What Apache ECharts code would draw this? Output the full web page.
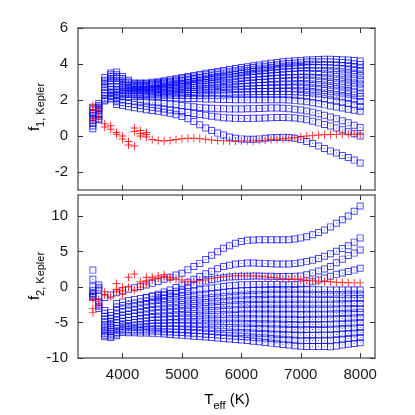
<!DOCTYPE html>
<html><head><meta charset="utf-8">
<script src="https://cdn.jsdelivr.net/npm/echarts@6/dist/echarts.min.js"></script>
<style>html,body{margin:0;padding:0;background:#fff}#c{width:415px;height:415px}</style>
</head><body><div id="c"></div>
<script>
const tEff = [3500,3600,3700,3800,3900,4000,4100,4200,4300,4400,4500,4600,4700,4800,4900,5000,5100,5200,5300,5400,5500,5600,5700,5800,5900,6000,6100,6200,6300,6400,6500,6600,6700,6800,6900,7000,7100,7200,7300,7400,7500,7600,7700,7800,7900,8000];
const xTicks = [4000,5000,6000,7000,8000];
const f1Ticks = [-2,0,2,4,6];
const f2Ticks = [-10,-5,0,5,10];

// f1 (top panel) model curves
const f1Band0 = [1.6,1.8,3.25,3.5,3.55,3.3,3.1,2.95,2.95,2.95, 2.98,3.02,3.07,3.12,3.18,3.25,3.3,3.36,3.42,3.48, 3.53,3.58,3.64,3.7,3.75,3.8,3.85,3.9,3.95,4.0, 4.04,4.08,4.12,4.15,4.18,4.2,4.22,4.24,4.25,4.26, 4.26,4.25,4.24,4.22,4.19,4.16];
const f1Band1 = [1.3,1.6,3.1,3.4,3.4,3.2,3.0,2.9,2.9,2.9, 2.93,2.97,3.01,3.06,3.12,3.18,3.23,3.28,3.34,3.4, 3.45,3.5,3.55,3.6,3.65,3.7,3.75,3.8,3.84,3.88, 3.92,3.96,4.0,4.03,4.06,4.09,4.11,4.12,4.13,4.13, 4.12,4.1,4.08,4.05,4.01,3.97];
const f1Band2 = [1.0,1.5,3.0,3.3,3.3,3.1,2.95,2.85,2.85,2.85, 2.88,2.92,2.96,3.0,3.05,3.1,3.15,3.2,3.25,3.3, 3.35,3.4,3.45,3.5,3.55,3.6,3.64,3.68,3.72,3.76, 3.8,3.84,3.87,3.9,3.93,3.95,3.97,3.98,3.98,3.97, 3.96,3.94,3.91,3.87,3.83,3.78];
const f1Band3 = [0.7,1.2,2.85,3.2,3.2,3.0,2.85,2.8,2.8,2.8, 2.83,2.86,2.9,2.95,3.0,3.05,3.09,3.13,3.17,3.21, 3.25,3.3,3.35,3.4,3.45,3.5,3.54,3.58,3.61,3.64, 3.67,3.7,3.73,3.76,3.78,3.8,3.81,3.81,3.8,3.79, 3.77,3.75,3.72,3.68,3.64,3.6];
const f1Band4 = [0.4,0.9,2.7,3.05,3.05,2.9,2.8,2.75,2.75,2.75, 2.77,2.8,2.83,2.87,2.91,2.95,2.99,3.03,3.07,3.1, 3.14,3.18,3.22,3.26,3.3,3.35,3.38,3.41,3.44,3.47, 3.5,3.53,3.55,3.57,3.59,3.6,3.6,3.6,3.59,3.57, 3.55,3.52,3.49,3.45,3.41,3.36];
const f1Band5 = [1.45,1.7,2.55,2.9,2.9,2.8,2.7,2.7,2.7,2.7, 2.72,2.74,2.76,2.79,2.82,2.85,2.88,2.91,2.94,2.97, 3.0,3.04,3.08,3.12,3.16,3.2,3.23,3.26,3.29,3.32, 3.35,3.37,3.39,3.41,3.43,3.45,3.44,3.43,3.41,3.38, 3.35,3.31,3.27,3.22,3.18,3.13];
const f1Band6 = [1.15,1.4,2.4,2.75,2.75,2.7,2.62,2.6,2.6,2.6, 2.62,2.64,2.67,2.69,2.72,2.75,2.78,2.81,2.84,2.87, 2.9,2.93,2.96,2.99,3.02,3.05,3.08,3.11,3.14,3.17, 3.19,3.21,3.22,3.23,3.24,3.25,3.24,3.22,3.2,3.17, 3.13,3.09,3.04,2.99,2.94,2.89];
const f1Band7 = [0.85,1.1,2.25,2.6,2.6,2.6,2.55,2.55,2.55,2.55, 2.56,2.58,2.6,2.62,2.64,2.65,2.68,2.7,2.73,2.75, 2.78,2.8,2.83,2.85,2.88,2.9,2.93,2.95,2.97,2.99, 3.01,3.02,3.03,3.04,3.05,3.05,3.04,3.02,2.99,2.96, 2.92,2.88,2.83,2.78,2.73,2.67];
const f1Band8 = [0.55,0.95,2.1,2.45,2.5,2.5,2.5,2.5,2.5,2.5, 2.5,2.51,2.52,2.53,2.54,2.55,2.57,2.59,2.61,2.63, 2.65,2.67,2.69,2.71,2.73,2.75,2.77,2.79,2.8,2.81, 2.82,2.83,2.84,2.85,2.85,2.85,2.83,2.8,2.77,2.73, 2.69,2.64,2.59,2.53,2.46,2.39];
const f1Band9 = [1.25,1.55,2.0,2.35,2.4,2.42,2.42,2.42,2.42,2.4, 2.41,2.42,2.43,2.44,2.45,2.45,2.47,2.48,2.5,2.51, 2.52,2.54,2.55,2.57,2.58,2.6,2.61,2.62,2.63,2.64, 2.65,2.65,2.66,2.66,2.66,2.65,2.63,2.6,2.57,2.53, 2.49,2.44,2.39,2.33,2.27,2.2];
const f1Band10 = [null,null,1.95,2.25,2.3,2.35,2.35,2.35,2.35,2.35, 2.35,2.35,2.35,2.35,2.35,2.35,2.36,2.37,2.38,2.39, 2.4,2.41,2.42,2.43,2.44,2.45,2.46,2.46,2.47,2.47, 2.47,2.47,2.47,2.47,2.46,2.45,2.42,2.39,2.35,2.31, 2.26,2.21,2.16,2.1,2.01,1.92];
const f1Band11 = [null,null,null,2.2,2.25,2.28,2.3,2.3,2.3,2.3, 2.29,2.28,2.27,2.26,2.25,2.25,2.25,2.25,2.25,2.26, 2.26,2.27,2.28,2.29,2.3,2.3,2.31,2.31,2.31,2.31, 2.31,2.3,2.3,2.29,2.27,2.25,2.21,2.17,2.12,2.07, 2.01,1.95,1.88,1.81,1.73,1.64];
const f1LowD = [null,null,null,2.1,2.15,2.2,2.2,2.2,2.2,2.18, 2.17,2.15,2.14,2.12,2.11,2.1,2.09,2.08,2.07,2.06, 2.05,2.04,2.03,2.03,2.02,2.02,2.02,2.02,2.02,2.02, 2.02,2.02,2.01,2.0,1.98,1.95,1.9,1.85,1.79,1.73, 1.67,1.61,1.55,1.49,1.43,1.37];
const f1LowC = [null,null,null,2.05,2.0,2.0,1.98,1.95,1.93,1.9, 1.88,1.85,1.82,1.78,1.74,1.7,1.66,1.62,1.59,1.56, 1.54,1.52,1.51,1.5,1.5,1.5,1.51,1.52,1.53,1.54, 1.55,1.55,1.54,1.52,1.49,1.45,1.39,1.32,1.24,1.15, 1.06,0.96,0.85,0.73,0.6,0.47];
const f1LowB = [null,null,null,null,1.9,1.85,1.8,1.75,1.7,1.65, 1.6,1.55,1.5,1.45,1.4,1.35,1.3,1.25,1.2,1.15, 1.1,1.05,1.02,1.0,0.98,0.97,0.97,0.98,0.99,1.0, 1.02,1.03,1.03,1.02,1.0,0.96,0.9,0.82,0.73,0.64, 0.55,0.45,0.35,0.24,0.12,0.0];
const f1LowA = [null,null,null,null,1.75,1.7,1.63,1.57,1.51,1.46, 1.42,1.37,1.32,1.26,1.18,1.08,0.96,0.8,0.62,0.45, 0.3,0.16,0.05,-0.05,-0.12,-0.16,-0.18,-0.18,-0.16,-0.13, -0.1,-0.08,-0.07,-0.08,-0.12,-0.2,-0.3,-0.42,-0.56,-0.7, -0.83,-0.95,-1.08,-1.2,-1.34,-1.5];

// f1 Kepler observed (red)
const f1ObsT = [3500,3500,3500,3600,3600,3700,3700,3800,3800,3900,3900,4000,4000,4100,4100,4200,4200,4200,4300,4300,4300,4400,4400,4400,4500,4600,4700,4800,4900,5000,5100,5200,5300,5400,5500,5600,5700,5800,5900,6000,6100,6200,6300,6400,6500,6600,6700,6800,6900,7000,7100,7200,7300,7400,7500,7600,7700,7800,7900,8000];
const f1ObsV = [1.7,1.45,0.9,1.45,1.0,0.68,0.5,0.57,0.38,0.2,0.1,0.0,-0.17,-0.3,-0.5,0.44,0.25,-0.55,0.3,0.14,0.0,0.2,0.08,-0.05,-0.2,-0.25,-0.28,-0.25,-0.2,-0.15,-0.12,-0.12,-0.15,-0.18,-0.22,-0.25,-0.27,-0.28,-0.28,-0.27,-0.27,-0.27,-0.25,-0.23,-0.2,-0.18,-0.15,-0.12,-0.1,-0.05,0.0,0.02,0.05,0.07,0.08,0.09,0.1,0.1,0.1,0.1];

// f2 (bottom panel) model curves
const f2Up1 = [null,null,-1.45,-1.1,-0.8,-0.5,-0.3,-0.1,0.1,0.3, 0.55,0.8,1.1,1.4,1.7,1.95,2.45,2.9,3.35,3.9, 4.5,5.0,5.5,5.85,6.2,6.45,6.6,6.65,6.7,6.7, 6.7,6.68,6.68,6.7,6.8,6.95,7.1,7.4,7.7,8.05, 8.5,9.0,9.5,10.05,10.7,11.45];
const f2Up2 = [null,null,null,null,null,null,null,null,null,-1.5, -1.25,-1.0,-0.7,-0.4,-0.05,0.3,0.7,1.1,1.5,1.9, 2.25,2.6,2.9,3.1,3.25,3.35,3.4,3.4,3.38,3.35, 3.3,3.27,3.25,3.27,3.35,3.45,3.6,3.8,4.05,4.35, 4.7,5.05,5.45,5.85,6.35,6.95];
const f2Up3 = [null,null,null,null,null,null,null,null,null,null, null,-1.5,-1.2,-0.9,-0.6,-0.3,0.0,0.3,0.6,0.85, 1.05,1.2,1.32,1.42,1.48,1.52,1.55,1.56,1.56,1.55, 1.53,1.51,1.5,1.5,1.52,1.57,1.75,2.0,2.27,2.55, 2.9,3.45,3.95,4.45,4.8,5.25];
const f2Up4 = [null,null,null,null,-2.3,-2.1,-1.9,-1.75,-1.6,-1.45, -1.3,-1.18,-1.06,-0.95,-0.85,-0.75,-0.63,-0.5,-0.38,-0.25, -0.12,0.0,0.1,0.2,0.27,0.32,0.35,0.37,0.38,0.38, 0.37,0.36,0.35,0.35,0.38,0.45,0.55,0.75,1.0,1.3, 1.55,1.8,2.0,2.2,2.4,2.65];
const f2Band0 = [2.4,0.3,-3.3,-3.6,-2.8,-2.6,-2.43,-2.27,-2.11,-1.95, -1.8,-1.7,-1.6,-1.5,-1.4,-1.3,-1.22,-1.14,-1.06,-0.98, -0.9,-0.82,-0.74,-0.66,-0.58,-0.5,-0.47,-0.44,-0.41,-0.38, -0.35,-0.35,-0.35,-0.35,-0.35,-0.35,-0.36,-0.37,-0.38,-0.39, -0.4,-0.4,-0.4,-0.4,-0.4,-0.4];
const f2Band1 = [1.1,-0.1,-3.7,-4.0,-3.3,-3.1,-2.94,-2.78,-2.62,-2.46, -2.3,-2.22,-2.14,-2.06,-1.98,-1.9,-1.82,-1.74,-1.66,-1.58, -1.5,-1.43,-1.36,-1.29,-1.22,-1.15,-1.12,-1.09,-1.06,-1.03, -1.0,-1.0,-1.0,-1.0,-1.0,-1.0,-1.01,-1.02,-1.03,-1.04, -1.05,-1.04,-1.03,-1.02,-1.01,-1.0];
const f2Band2 = [0.05,-0.4,-4.1,-4.4,-3.8,-3.5,-3.36,-3.22,-3.08,-2.94, -2.8,-2.73,-2.66,-2.59,-2.52,-2.45,-2.38,-2.31,-2.24,-2.17, -2.1,-2.04,-1.98,-1.92,-1.86,-1.8,-1.78,-1.76,-1.74,-1.72, -1.7,-1.7,-1.7,-1.7,-1.7,-1.7,-1.7,-1.7,-1.7,-1.7, -1.7,-1.68,-1.66,-1.64,-1.62,-1.6];
const f2Band3 = [-0.5,-1.3,-4.5,-4.8,-4.2,-4.0,-3.86,-3.72,-3.58,-3.44, -3.3,-3.24,-3.18,-3.12,-3.06,-3.0,-2.94,-2.88,-2.82,-2.76, -2.7,-2.65,-2.6,-2.55,-2.5,-2.45,-2.44,-2.43,-2.42,-2.41, -2.4,-2.4,-2.4,-2.4,-2.4,-2.4,-2.4,-2.4,-2.4,-2.4, -2.4,-2.38,-2.36,-2.34,-2.32,-2.3];
const f2Band4 = [-1.1,-2.1,-4.9,-5.1,-4.6,-4.4,-4.28,-4.16,-4.04,-3.92, -3.8,-3.74,-3.68,-3.62,-3.56,-3.5,-3.46,-3.42,-3.38,-3.34, -3.3,-3.26,-3.22,-3.18,-3.14,-3.1,-3.1,-3.1,-3.1,-3.1, -3.1,-3.1,-3.1,-3.1,-3.1,-3.1,-3.1,-3.1,-3.1,-3.1, -3.1,-3.08,-3.06,-3.04,-3.02,-3.0];
const f2Band5 = [-1.45,-2.7,-5.3,-5.4,-5.0,-4.8,-4.7,-4.6,-4.5,-4.4, -4.3,-4.25,-4.2,-4.15,-4.1,-4.05,-4.02,-3.99,-3.96,-3.93, -3.9,-3.88,-3.86,-3.84,-3.82,-3.8,-3.8,-3.8,-3.8,-3.8, -3.8,-3.81,-3.82,-3.83,-3.84,-3.85,-3.84,-3.83,-3.82,-3.81, -3.8,-3.76,-3.72,-3.68,-3.64,-3.6];
const f2Band6 = [-0.9,-3.0,-5.6,-5.7,-5.4,-5.2,-5.1,-5.0,-4.9,-4.8, -4.7,-4.67,-4.64,-4.61,-4.58,-4.55,-4.54,-4.53,-4.52,-4.51, -4.5,-4.49,-4.48,-4.47,-4.46,-4.45,-4.46,-4.47,-4.48,-4.49, -4.5,-4.51,-4.52,-4.53,-4.54,-4.55,-4.54,-4.53,-4.52,-4.51, -4.5,-4.46,-4.42,-4.38,-4.34,-4.3];
const f2Band7 = [-1.3,-2.4,-5.9,-6.0,-5.8,-5.5,-5.42,-5.34,-5.26,-5.18, -5.1,-5.09,-5.08,-5.07,-5.06,-5.05,-5.06,-5.07,-5.08,-5.09, -5.1,-5.1,-5.1,-5.1,-5.1,-5.1,-5.12,-5.14,-5.16,-5.18, -5.2,-5.22,-5.24,-5.26,-5.28,-5.3,-5.29,-5.28,-5.27,-5.26, -5.25,-5.2,-5.15,-5.1,-5.05,-5.0];
const f2Band8 = [null,null,-6.2,-6.3,-6.1,-5.8,-5.74,-5.68,-5.62,-5.56, -5.5,-5.5,-5.5,-5.5,-5.5,-5.5,-5.53,-5.56,-5.59,-5.62, -5.65,-5.67,-5.69,-5.71,-5.73,-5.75,-5.78,-5.81,-5.84,-5.87, -5.9,-5.92,-5.94,-5.96,-5.98,-6.0,-5.99,-5.98,-5.97,-5.96, -5.95,-5.9,-5.85,-5.8,-5.75,-5.7];
const f2Band9 = [null,null,-6.5,-6.6,-6.4,-6.0,-5.98,-5.96,-5.94,-5.92, -5.9,-5.92,-5.94,-5.96,-5.98,-6.0,-6.04,-6.08,-6.12,-6.16, -6.2,-6.24,-6.28,-6.32,-6.36,-6.4,-6.44,-6.48,-6.52,-6.56, -6.6,-6.64,-6.68,-6.72,-6.76,-6.8,-6.79,-6.78,-6.77,-6.76, -6.75,-6.68,-6.61,-6.54,-6.47,-6.4];
const f2Band10 = [null,null,-6.8,-6.9,-6.6,-6.2,-6.2,-6.2,-6.2,-6.2, -6.2,-6.24,-6.28,-6.32,-6.36,-6.4,-6.46,-6.52,-6.58,-6.64, -6.7,-6.75,-6.8,-6.85,-6.9,-6.95,-7.01,-7.07,-7.13,-7.19, -7.25,-7.31,-7.37,-7.43,-7.49,-7.55,-7.54,-7.53,-7.52,-7.51, -7.5,-7.42,-7.34,-7.26,-7.18,-7.1];
const f2Band11 = [null,null,-7.0,-7.1,-6.85,-6.4,-6.42,-6.44,-6.46,-6.48, -6.5,-6.56,-6.62,-6.68,-6.74,-6.8,-6.86,-6.92,-6.98,-7.04, -7.1,-7.17,-7.24,-7.31,-7.38,-7.45,-7.54,-7.63,-7.72,-7.81, -7.9,-7.99,-8.08,-8.17,-8.26,-8.35,-8.36,-8.37,-8.38,-8.39, -8.4,-8.29,-8.18,-8.07,-7.96,-7.85];

// f2 Kepler observed (red)
const f2ObsT = [3500,3500,3500,3600,3600,3700,3700,3800,3900,3900,3900,4000,4000,4000,4100,4100,4200,4200,4300,4300,4400,4400,4400,4500,4500,4600,4600,4700,4700,4800,4800,4900,5000,5100,5200,5300,5400,5500,5600,5700,5800,5900,6000,6100,6200,6300,6400,6500,6600,6700,6800,6900,7000,7100,7200,7300,7400,7500,7600,7700,7800,7900,8000];
const f2ObsV = [-1.7,-3.0,-3.6,-1.8,-2.4,-0.65,-1.1,-1.35,0.5,-0.3,-0.65,0.0,-0.5,-1.0,1.4,0.0,1.85,-0.4,0.77,0.0,1.4,0.9,0.44,1.4,1.1,1.57,1.24,1.75,1.4,1.4,1.1,1.1,1.0,0.77,0.85,0.9,1.0,1.2,1.35,1.45,1.55,1.6,1.62,1.6,1.58,1.55,1.45,1.35,1.28,1.2,1.15,1.1,1.05,0.95,0.9,0.85,0.8,0.75,0.7,0.65,0.62,0.6,0.6];

const f1Curves = [f1Band0,f1Band1,f1Band2,f1Band3,f1Band4,f1Band5,f1Band6,f1Band7,f1Band8,f1Band9,f1Band10,f1Band11,f1LowD,f1LowC,f1LowB,f1LowA];
const f2Curves = [f2Band0,f2Band1,f2Band2,f2Band3,f2Band4,f2Band5,f2Band6,f2Band7,f2Band8,f2Band9,f2Band10,f2Band11,f2Up1,f2Up2,f2Up3,f2Up4];

const SQ = 'path://M0 0H10V10H0Z M1.4 1.4V8.6H8.6V1.4Z M4.3 4.3H5.7V5.7H4.3Z';
const PLUS = 'path://M4.4 0H5.6V10H4.4Z M0 4.4H10V5.6H0Z';
const FONT = 'Liberation Sans, Arial, sans-serif';
const TXT = '#1a1a1a';
const FRAME = '#6a6a6a';
const RICH = {a:{fontSize:15, lineHeight:22, color:TXT, fontFamily:FONT}, b:{fontSize:11, lineHeight:11, verticalAlign:'bottom', color:TXT, fontFamily:FONT}};

function curveData(vals){ const d=[]; vals.forEach((v,i)=>{ if(v!==null) d.push([tEff[i], v]); }); return d; }
function pairData(ts, vs){ return ts.map((t,i)=>[t, vs[i]]); }

function xAx(grid, pos, labels){
  return {type:'value', gridIndex:grid, position:pos, min:3250, max:8250,
    axisLine:{show:true, onZero:false, lineStyle:{color:FRAME, width:1.5}},
    axisTick:{show:true, inside:true, length:5, customValues:xTicks, lineStyle:{color:'#333', width:1}},
    axisLabel:{show:labels, customValues:xTicks, formatter:v=>String(v), margin:9, fontSize:15, color:TXT, fontFamily:FONT},
    splitLine:{show:false}
  };
}
function yAx(grid, pos, mn, mx, ticks, labels){
  return {type:'value', gridIndex:grid, position:pos, min:mn, max:mx,
    axisLine:{show:true, onZero:false, lineStyle:{color:FRAME, width:1.5}},
    axisTick:{show:true, inside:true, length:5, customValues:ticks, lineStyle:{color:'#333', width:1}},
    axisLabel:{show:labels, customValues:ticks, formatter:v=>String(v), margin:10, fontSize:15, color:TXT, fontFamily:FONT},
    splitLine:{show:false}
  };
}

const series = [];
f1Curves.forEach(c => series.push({type:'scatter', xAxisIndex:0, yAxisIndex:0, symbol:SQ, symbolSize:7, itemStyle:{color:'#0000ff', opacity:0.7}, data:curveData(c)}));
f2Curves.forEach(c => series.push({type:'scatter', xAxisIndex:2, yAxisIndex:2, symbol:SQ, symbolSize:7, itemStyle:{color:'#0000ff', opacity:0.7}, data:curveData(c)}));
series.push({type:'scatter', xAxisIndex:0, yAxisIndex:0, symbol:PLUS, symbolSize:8, itemStyle:{color:'#ff0000', opacity:0.8}, data:pairData(f1ObsT, f1ObsV)});
series.push({type:'scatter', xAxisIndex:2, yAxisIndex:2, symbol:PLUS, symbolSize:8, itemStyle:{color:'#ff0000', opacity:0.8}, data:pairData(f2ObsT, f2ObsV)});

const chart = echarts.init(document.getElementById('c'), null, {renderer:'canvas'});
chart.setOption({
  animation:false,
  backgroundColor:'#fff',
  grid:[{left:78, top:28, width:297, height:162}, {left:78, top:195, width:297, height:163}],
  xAxis:[xAx(0,'bottom',false), xAx(0,'top',false), xAx(1,'bottom',true), xAx(1,'top',false)],
  yAxis:[yAx(0,'left',-3,6,f1Ticks,true), yAx(0,'right',-3,6,f1Ticks,false), yAx(1,'left',-10,13,f2Ticks,true), yAx(1,'right',-10,13,f2Ticks,false)],
  graphic:[
    {type:'text', x:35, y:107, rotation:Math.PI/2, silent:true, style:{text:'{a|f}{b|1, Kepler}', rich:RICH, align:'center', verticalAlign:'middle'}},
    {type:'text', x:35, y:276, rotation:Math.PI/2, silent:true, style:{text:'{a|f}{b|2, Kepler}', rich:RICH, align:'center', verticalAlign:'middle'}},
    {type:'text', x:227, y:400, silent:true, style:{text:'{a|T}{b|eff}{a| (K)}', rich:RICH, align:'center', verticalAlign:'middle'}}
  ],
  series: series
});
</script></body></html>
